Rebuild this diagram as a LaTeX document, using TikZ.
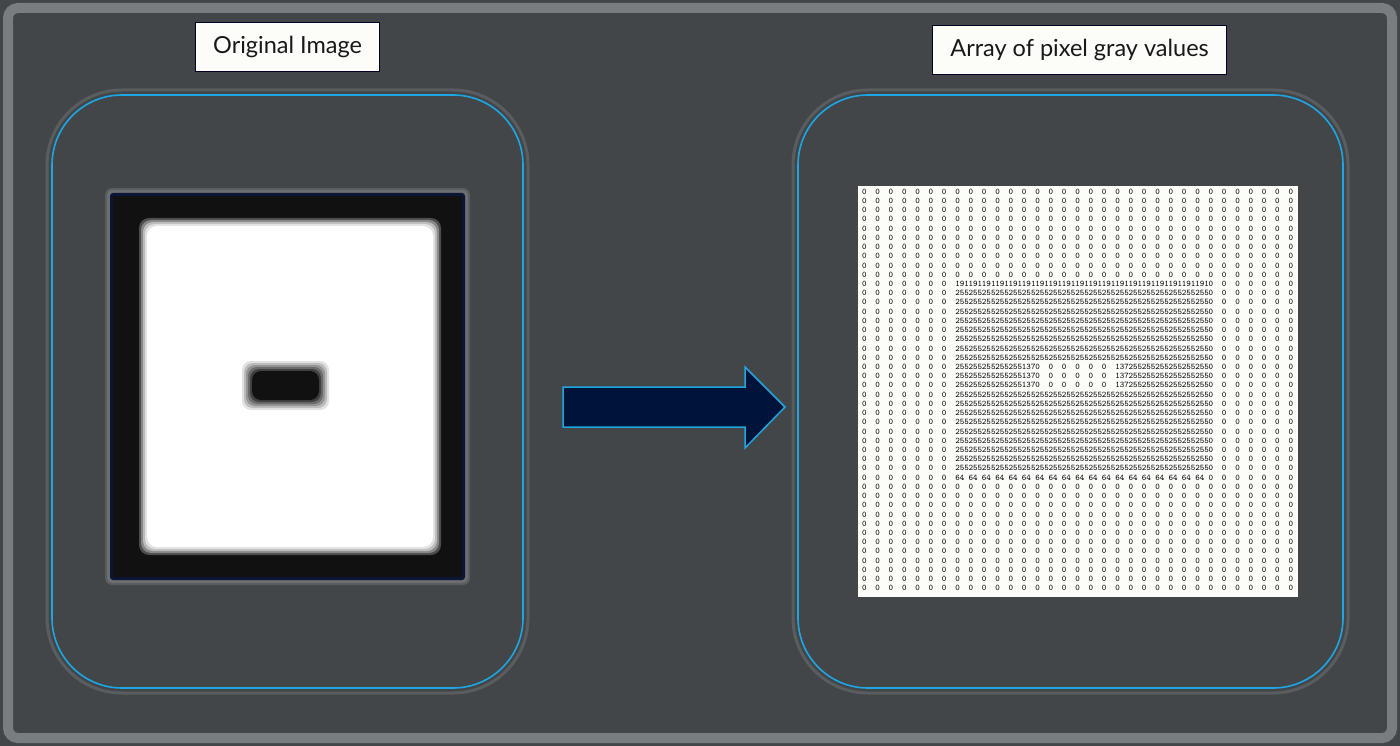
\documentclass[tikz,border=0pt]{standalone}
\usepackage{fontspec}
\setmainfont{Lato}
\usetikzlibrary{positioning}

\definecolor{bgdark}{HTML}{434649}
\definecolor{framegray}{HTML}{787D80}
\definecolor{boxblue}{HTML}{1DA6E2}
\definecolor{arrownavy}{HTML}{001338}
\definecolor{imgblack}{HTML}{111111}
\definecolor{imgnavy}{HTML}{0B1535}
\definecolor{paper}{HTML}{FCFCF9}

\tikzset{
  panel/.style={draw=boxblue, line width=1.6pt, rounded corners=70pt},
  panelhalo/.style={draw=white!70!bgdark, line width=3pt, opacity=0.18, rounded corners=75pt},
  caption/.style={draw=black!85!blue, line width=1.2pt, fill=paper, inner sep=0pt,
    anchor=north west, font=\fontsize{23.5}{26}\selectfont, text=black!90},
  pix/.style={anchor=west, inner sep=0pt, font=\ttfamily\fontsize{8.6}{9}\selectfont, text=black},
}

\begin{document}
\begin{tikzpicture}[x=1pt,y=-1pt]
\useasboundingbox (0,0) rectangle (1400,746);
\fill[bgdark] (0,0) rectangle (1400,746);
\draw[framegray, line width=10pt, rounded corners=10pt] (8,8) rectangle (1392,738);

% the two panels
\draw[panelhalo] (47,90) rectangle (528,693);
\draw[panelhalo] (793,90) rectangle (1348,693);
\draw[panel] (52,95) rectangle (523,688);
\draw[panel] (798,95) rectangle (1343,688);

% captions
\node[caption, minimum width=184, minimum height=49] (origlabel) at (195,22) {Original Image\hspace{8pt}};
\node[caption, minimum width=294, minimum height=49] (arraylabel) at (932,25) {Array of pixel gray values\hspace{6pt}};

% original image, soft edges
\fill[white!12!bgdark, rounded corners=7pt] (105,188) rectangle (470,585);
\fill[white!22!bgdark, rounded corners=5pt] (107,190) rectangle (468,583);
\fill[imgnavy, rounded corners=3pt] (110,193) rectangle (465,580);
\fill[imgblack] (113,196) rectangle (462,577);
\foreach \d/\s in {8/25,6/50,4/72,2/88,0/100} {
  \fill[white!\s!imgblack, rounded corners=10pt] ({147-\d},{226-\d}) rectangle ({433+\d},{547+\d});
}
\foreach \d/\s in {10/12,8/28,6/45,4/62,2/80,0/100} {
  \fill[imgblack!\s!white, rounded corners=9pt] ({252-\d},{371-\d}) rectangle ({319+\d},{400+\d});
}

% block arrow
\draw[boxblue, line width=1.5pt, fill=arrownavy, line join=miter]
  (563,387) -- (745,387) -- (745,367) -- (785,407) -- (745,448) -- (745,427) -- (563,427) -- cycle;

% array of gray values
\node[fill=paper, inner sep=0pt, minimum width=440, minimum height=411, anchor=north west] (grid) at (858,186) {};
\foreach \r in {0,...,43} {
  \foreach \c in {0,...,32} {
    \pgfmathtruncatemacro\val{and(\c>6,\c<26)*and(\r>9,\r<32)*(\r==10 ? 191 : (\r==31 ? 64 : (and(\r>18,\r<22) ? ((\c==12 || \c==19) ? 137 : (and(\c>12,\c<19) ? 0 : 255)) : 255)))}
    \node[pix] (v\r-\c) at ({861.8+13.33*\c},{191.7+9.22*\r}) {\val};
  }
}
\end{tikzpicture}
\end{document}
